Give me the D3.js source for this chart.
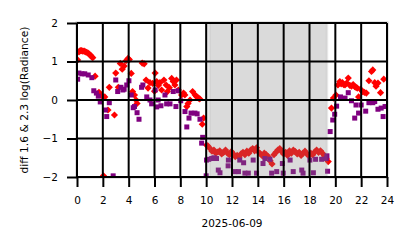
<!DOCTYPE html>
<html>
  <head>
    <meta charset="utf-8" />
    <script src="https://d3js.org/d3.v7.min.js"></script>
    <style>
      body { margin: 0; background: #fff; }
      text { font-family: "DejaVu Sans", sans-serif; }
    </style>
  </head>
  <body>
    <svg id="chart" width="414" height="248"></svg>
    <script>
      // hours of day and values (diff of log radiance)
      const redHours = [
        0.05, 0.15, 0.25, 0.35, 0.45, 0.55, 0.65, 0.75, 0.85, 0.95, 1.05, 1.15, 1.22, 1.4,
        1.7, 1.8, 1.95, 2.05, 2.15, 2.4, 2.5, 2.9, 3.0, 3.2, 3.35, 3.5, 3.65, 3.8, 3.95,
        4.05, 4.2, 4.3, 4.45, 4.57, 4.65, 5.05, 5.2, 5.35, 5.5, 5.65, 5.86, 6.0, 6.05,
        6.17, 6.3, 6.42, 6.55, 6.73, 6.9, 7.0, 7.15, 7.33, 7.45, 7.58, 7.7, 7.85, 8.1,
        8.25, 8.35, 8.5, 8.6, 8.75, 8.95, 9.15, 9.25, 9.4, 9.5, 9.7, 9.8, 10.03,
        10.15, 10.3, 10.45, 10.6, 10.75, 10.9, 11.05, 11.2, 11.35, 11.5, 11.65, 11.8,
        11.95, 12.1, 12.25, 12.4, 12.55, 12.7, 12.85, 13.0, 13.15, 13.3, 13.45, 13.6,
        13.75, 13.9, 14.05, 14.2, 14.35, 14.5, 14.65, 14.8, 14.95, 15.1, 15.25, 15.4,
        15.55, 15.7, 15.85, 16.0, 16.15, 16.3, 16.45, 16.6, 16.75, 16.9, 17.05, 17.2,
        17.35, 17.5, 17.65, 17.8, 17.95, 18.1, 18.25, 18.4, 18.55, 18.7, 18.85, 19.0,
        19.15, 19.3, 19.45,
        19.7, 19.85, 20.05, 20.2, 20.35, 20.45, 20.55, 20.65, 20.75, 20.88, 21.0, 21.12,
        21.25, 21.38, 21.5, 21.6, 21.7, 21.8, 21.95, 22.1, 22.25, 22.4, 22.6, 22.8, 22.9,
        23.05, 23.15, 23.3, 23.5, 23.75
      ];
      const redValues = [
        1.04, 1.25, 1.28, 1.28, 1.27, 1.27, 1.25, 1.24, 1.22, 1.19, 1.16, 1.12, 1.1, 0.62,
        0.2, 0.15, 0.1, -1.97, 0.08, -0.26, 0.33, -0.39, 0.7, 0.33, 0.95, 0.8, 0.88, 1.02, 1.08,
        1.05, 0.69, 0.22, 0.13, 0.0, -0.09, 0.96, 0.94, 0.52, 0.31, 0.45, 0.43, 0.23, 0.7,
        0.48, 0.38, 0.45, 0.26, 0.52, 0.39, 0.22, 0.32, 0.56, 0.48, 0.39, 0.52, 0.26, 0.13,
        0.18, 0.13, -0.17, -0.09, 0.0, 0.22, 0.13, 0.09, 0.05, 0.03, -0.63, -0.47, -1.17,
        -1.2, -1.26, -1.33, -1.3, -1.38, -1.35, -1.32, -1.4, -1.36, -1.3, -1.38, -1.42,
        -1.34, -1.4, -1.47, -1.44, -1.48, -1.4, -1.36, -1.42, -1.33, -1.38, -1.3, -1.26,
        -1.32, -1.24, -1.35, -1.4, -1.45, -1.38, -1.42, -1.47, -1.58, -1.66, -1.42, -1.36,
        -1.3, -1.26, -1.34, -1.4, -1.36, -1.44, -1.32, -1.38, -1.3, -1.34, -1.4, -1.36,
        -1.44, -1.38, -1.33, -1.4, -1.45, -1.38, -1.42, -1.35, -1.3, -1.36, -1.32, -1.38,
        -1.45, -1.52, -1.6,
        -0.21, 0.05, 0.13, 0.39, 0.48, 0.42, 0.45, 0.4, 0.39, 0.44, 0.57, 0.38,
        0.36, 0.4, 0.35, 0.33, 0.31, 0.08, 0.28, 0.22, 0.2, 0.18, 0.5, 0.74, 0.78,
        0.45, 0.36, 0.44, 0.19, 0.54
      ];

      const purpleHours = [
        0.05, 0.15, 0.38, 0.6, 0.87, 1.15, 1.3, 1.5, 1.65, 1.8, 2.2, 2.3, 2.5, 2.8,
        3.0, 3.15, 3.4, 3.55, 3.65, 3.85, 4.02, 4.2, 4.35, 4.45, 4.65, 4.8, 5.0, 5.1,
        5.4, 5.65, 5.78, 6.05, 6.17, 6.28, 6.5, 6.81, 6.94, 7.2, 7.45, 7.66, 7.83, 8.03,
        8.36, 8.5, 8.67, 8.83, 9.13, 9.3, 9.52, 9.65, 9.73, 10.0, 10.03,
        10.2, 10.43, 10.6, 10.8, 10.94, 11.07, 11.7, 11.72, 12.23, 12.5, 12.6, 12.9,
        13.0, 13.26, 13.64, 13.9, 14.4, 14.55, 14.94, 15.07, 15.46, 15.9, 15.97, 16.5,
        16.74, 17.4, 17.5, 18.03, 18.3, 18.47, 18.94, 19.3, 19.35, 19.4,
        19.6, 19.8, 19.95, 20.1, 20.4, 20.75, 21.0, 21.25, 21.5, 21.6, 21.8, 22.0,
        22.35, 22.6, 22.9, 23.05, 23.3, 23.55, 23.7, 23.85
      ];
      const purpleValues = [
        0.54, 0.7, 0.68, 0.68, 0.65, 0.58, 0.24, 0.18, 0.1, -0.05, -0.26, -0.43, -0.07, -1.97,
        0.52, 0.22, 0.33, 0.26, 0.28, 0.39, 0.5, 0.13, -0.2, -0.17, -0.33, -0.5, 0.33, 0.39,
        0.08, 0.0, -0.1, 0.26, -0.18, 0.0, -0.15, 0.13, -0.1, -0.1, 0.22, -0.17, 0.24, -0.02,
        -0.3, -0.7, -0.47, -0.34, -0.34, -0.36, -0.5, -1.12, -0.97, -1.97, -1.56,
        -1.54, -1.52, -1.5, -1.52, -1.82, -1.89, -1.71, -1.56, -1.86, -1.86, -1.56, -1.63,
        -1.9, -1.9, -1.56, -1.9, -1.65, -1.52, -1.54, -1.9, -1.86, -1.65, -1.9, -1.56,
        -1.86, -1.82, -1.9, -1.56, -1.89, -1.54, -1.54, -1.52, -1.45, -1.85,
        -0.82, -0.52, -0.37, -0.16, 0.08, 0.05, 0.19, -0.02, -0.47, -0.13, -0.34, -0.13,
        -0.29, -0.07, -0.07, -0.04, -0.24, -0.21, -0.43, -0.17
      ];

      // shaded night periods [start, end] in hours
      const shadeOuter = [10.0, 19.45];
      const shadeInner = [10.3, 19.3];

      const xTicks = [0, 2, 4, 6, 8, 10, 12, 14, 16, 18, 20, 22, 24];
      const yTicks = [-2, -1, 0, 1, 2];
      const xLabel = "2025-06-09";
      const yLabel = "diff 1.6 & 2.3  log(Radiance)";

      const svg = d3.select("#chart");
      const pLeft = 77, pRight = 387, pTop = 23, pBottom = 177;

      const x = d3.scaleLinear().domain([0, 24]).range([pLeft, pRight]);
      const y = d3.scaleLinear().domain([-2, 2]).range([pBottom, pTop]);

      svg.append("clipPath").attr("id", "clip")
        .append("rect")
        .attr("x", pLeft).attr("y", pTop - 1)
        .attr("width", pRight - pLeft).attr("height", pBottom - pTop + 2);

      // frame
      svg.append("rect")
        .attr("x", pLeft - 1).attr("y", pTop - 1)
        .attr("width", pRight - pLeft + 2).attr("height", pBottom - pTop + 2)
        .attr("fill", "none").attr("stroke", "#c8c8c8").attr("stroke-width", 1);

      const plot = svg.append("g").attr("clip-path", "url(#clip)");

      const diamond = "M0,-3.6L3.6,0L0,3.6L-3.6,0Z";
      plot.append("g").selectAll("path")
        .data(redHours.map((h, i) => [h, redValues[i]]))
        .enter().append("path")
        .attr("d", diamond)
        .attr("transform", (d) => `translate(${x(d[0])},${y(d[1])})`)
        .attr("fill", "#ff0000");

      plot.append("g").selectAll("rect")
        .data(purpleHours.map((h, i) => [h, purpleValues[i]]))
        .enter().append("rect")
        .attr("x", (d) => x(d[0]) - 2.5)
        .attr("y", (d) => y(d[1]) - 2.5)
        .attr("width", 5).attr("height", 5)
        .attr("fill", "#800080");

      // night shading, drawn over the points
      plot.append("rect")
        .attr("x", x(shadeOuter[0])).attr("y", pTop)
        .attr("width", x(shadeOuter[1]) - x(shadeOuter[0]))
        .attr("height", pBottom - pTop)
        .attr("fill", "#808080").attr("fill-opacity", 0.2);
      plot.append("rect")
        .attr("x", x(shadeInner[0])).attr("y", pTop)
        .attr("width", x(shadeInner[1]) - x(shadeInner[0]))
        .attr("height", pBottom - pTop)
        .attr("fill", "#808080").attr("fill-opacity", 0.12)
        .attr("stroke", "#808080").attr("stroke-opacity", 0.15);

      // grid
      const grid = svg.append("g").attr("stroke", "#000").attr("stroke-width", 2);
      grid.selectAll(".gx").data(xTicks).enter().append("line")
        .attr("x1", (d) => x(d)).attr("x2", (d) => x(d))
        .attr("y1", pTop).attr("y2", pBottom);
      grid.selectAll(".gy").data(yTicks).enter().append("line")
        .attr("x1", pLeft).attr("x2", pRight)
        .attr("y1", (d) => y(d)).attr("y2", (d) => y(d));

      // axes
      const xAxis = svg.append("g")
        .attr("transform", `translate(0,${pBottom})`)
        .call(d3.axisBottom(x).tickValues(xTicks).tickSize(10).tickPadding(10)
          .tickFormat(d3.format("d")));
      const yAxis = svg.append("g")
        .attr("transform", `translate(${pLeft},0)`)
        .call(d3.axisLeft(y).tickValues(yTicks).tickSize(10).tickPadding(9)
          .tickFormat((d) => (d < 0 ? "\u2212" + Math.abs(d) : d)));

      [xAxis, yAxis].forEach((a) => {
        a.select(".domain").remove();
        a.selectAll("line").attr("stroke", "#000").attr("stroke-width", 2);
        a.selectAll("text").attr("fill", "#000")
          .style("font-size", "10.5px").style("font-family", "DejaVu Sans, sans-serif");
      });

      svg.append("text")
        .attr("x", (pLeft + pRight) / 2).attr("y", 227)
        .attr("text-anchor", "middle")
        .style("font-size", "10.5px")
        .text(xLabel);

      svg.append("text")
        .attr("transform", `translate(24,${(pTop + pBottom) / 2}) rotate(-90)`)
        .attr("dy", "0.35em")
        .attr("text-anchor", "middle")
        .style("font-size", "10.7px")
        .text(yLabel);
    </script>
  </body>
</html>
